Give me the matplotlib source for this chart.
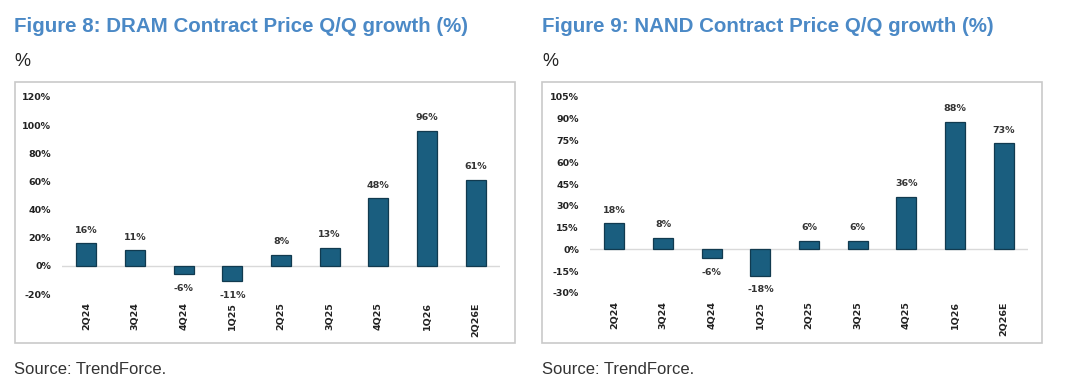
import matplotlib
matplotlib.use("Agg")
import matplotlib.pyplot as plt
from matplotlib.patches import Rectangle

categories = ["2Q24", "3Q24", "4Q24", "1Q25", "2Q25", "3Q25", "4Q25", "1Q26", "2Q26E"]
dram_growth = [16, 11, -6, -11, 8, 13, 48, 96, 61]
nand_growth = [18, 8, -6, -18, 6, 6, 36, 88, 73]
dram_ticks = [-20, 0, 20, 40, 60, 80, 100, 120]
nand_ticks = [-30, -15, 0, 15, 30, 45, 60, 75, 90, 105]
titles = ["Figure 8: DRAM Contract Price Q/Q growth (%)",
          "Figure 9: NAND Contract Price Q/Q growth (%)"]
source = "Source: TrendForce."

W, H = 1080, 392
fig = plt.figure(figsize=(W / 100, H / 100), dpi=100)
fig.patch.set_facecolor("white")

SANS = ["Liberation Sans", "DejaVu Sans"]
BAR = "#1a5e7f"
EDGE = "#113a4f"
TITLE_C = "#4b89c6"


def fx(px):
    return px / W


def fy(py):
    return 1 - py / H


def panel(x0, box, ax_px, values, ticks, title):
    fig.text(fx(x0), fy(26), title, fontsize=14.8, fontweight="bold", color=TITLE_C,
             family=SANS, va="center", ha="left")
    fig.text(fx(x0), fy(62), "%", fontsize=13, color="#222222",
             family=SANS, va="center", ha="left")
    fig.text(fx(x0), fy(369), source, fontsize=12, color="#333333",
             family=SANS, va="center", ha="left")
    bx0, by0, bx1, by1 = box
    fig.add_artist(Rectangle((fx(bx0), fy(by1)), fx(bx1 - bx0), (by1 - by0) / H,
                             transform=fig.transFigure, fill=False,
                             edgecolor="#c9c9c9", linewidth=1.2))
    ax_l, ax_t, ax_r, ax_b = ax_px
    ax = fig.add_axes([fx(ax_l), fy(ax_b), fx(ax_r - ax_l), (ax_b - ax_t) / H])
    xs = list(range(len(categories)))
    ax.bar(xs, values, width=0.41, color=BAR, edgecolor=EDGE, linewidth=0.9, zorder=3)
    ax.axhline(0, color="#d9d9d9", linewidth=1.0, zorder=2)
    ax.set_xlim(-0.5, len(categories) - 0.5)
    ax.set_ylim(ticks[0], ticks[-1])
    ax.set_yticks(ticks)
    ax.set_yticklabels([f"{t}%" for t in ticks], fontsize=6.8, fontweight="bold",
                       color="#222222", family="DejaVu Sans")
    ax.set_xticks(xs)
    ax.set_xticklabels(categories, rotation=90, fontsize=6.8, fontweight="bold",
                       color="#222222", family="DejaVu Sans")
    ax.tick_params(length=0, axis="y", pad=8)
    ax.tick_params(length=0, axis="x", pad=6)
    for s in ax.spines.values():
        s.set_visible(False)
    ax.patch.set_alpha(0)
    for x, v in zip(xs, values):
        off = 9.5 if v >= 0 else -10
        ax.annotate(f"{v}%", (x, v), xytext=(0, off), textcoords="offset points",
                    ha="center", va="center", fontsize=6.8, fontweight="bold",
                    color="#333333", family="DejaVu Sans", annotation_clip=False)
    return ax


panel(14, (15, 82, 515, 343), (62, 97, 500, 294), dram_growth, dram_ticks, titles[0])
panel(542, (542, 82, 1042, 343), (590, 97, 1028, 293), nand_growth, nand_ticks, titles[1])

fig.savefig("out.png", dpi=100, facecolor="white")
